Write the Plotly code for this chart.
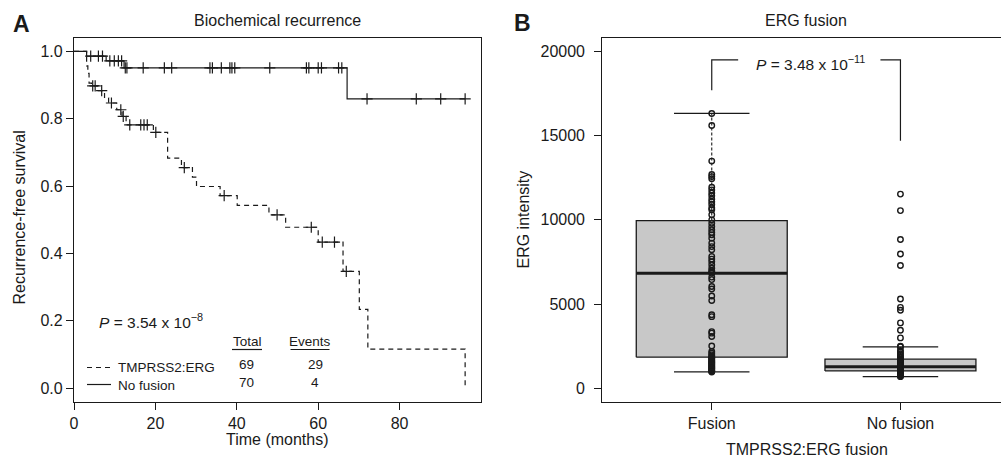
import plotly.graph_objects as go

# ---------------- Panel A: Kaplan-Meier data ----------------
km_groups = ["TMPRSS2:ERG", "No fusion"]
km_total = [69, 70]
km_events = [29, 4]

fus_t = [0, 3.1, 3.4, 3.7, 4.3, 6.0, 7.5, 8.5, 10.5, 11.8, 12.8, 19.5, 23.0, 26.4,
         29.1, 30.1, 35.9, 40.1, 47.9, 52.0, 60.0, 66.1, 70.1, 72.2, 96.1]
fus_s = [1.0, 0.957, 0.935, 0.906, 0.898, 0.884, 0.862, 0.847, 0.827, 0.807, 0.782,
         0.760, 0.683, 0.655, 0.627, 0.599, 0.572, 0.543, 0.515, 0.478, 0.434, 0.347,
         0.234, 0.116, 0.0]
fus_cens = [4.6, 5.2, 6.8, 9.2, 11.5, 12.1, 13.7, 16.4, 17.2, 18.0, 20.1, 27.1, 36.9,
            49.9, 58.3, 61.0, 64.0, 66.9]

nof_t = [0, 3.1, 7.9, 12.3, 67.1, 96.1]
nof_s = [1.0, 0.986, 0.972, 0.951, 0.859, 0.859]
nof_cens = [4.1, 6.0, 7.0, 8.8, 9.9, 10.9, 11.7, 12.6, 13.0, 17.0, 22.2, 24.0, 33.4,
            34.0, 36.2, 38.3, 38.8, 39.5, 48.1, 57.1, 57.7, 60.0, 60.8, 65.0, 65.8,
            72.0, 84.1, 90.1, 96.1]

x_ticks_a = [0, 20, 40, 60, 80]
y_ticks_a = [0.0, 0.2, 0.4, 0.6, 0.8, 1.0]

# ---------------- Panel B: box plot data ----------------
box_groups = ["Fusion", "No fusion"]
box_q1 = [1842, 1028]
box_med = [6833, 1283]
box_q3 = [9958, 1723]
box_lo = [968, 689]
box_hi = [16318, 2454]

fusion_vals = [16320, 15600, 13490, 12690, 12570, 12440, 11940, 11780, 11590, 11430,
               11230, 11070, 10910, 10710, 10600, 10300, 10000,
               9800, 9600, 9410, 9250, 9110, 8910, 8620, 8410, 8220, 7820, 7670, 7520,
               7330, 7130, 6980, 6900, 6833,
               6600, 6450, 6040, 5890, 5480, 5210, 4360, 4250, 3360, 3270, 3070, 2510,
               2180, 2080, 1980, 1900, 1842,
               1800, 1750, 1680, 1630, 1580, 1530, 1480, 1430, 1380, 1330, 1280, 1230,
               1190, 1140, 1090, 1040, 990, 968]
nofusion_vals = [11530, 10550, 8830, 7970, 7290, 5300, 4800, 4630, 3880, 3440, 2990, 2490,
                 2454, 2250, 2150, 2050, 1950, 1870, 1800, 1715,
                 1700, 1670, 1640, 1610, 1580, 1550, 1520, 1495, 1470, 1445, 1420, 1400,
                 1380, 1360, 1340, 1320, 1305, 1290, 1275, 1260, 1240, 1220, 1200, 1180,
                 1160, 1140, 1125, 1110, 1095, 1080, 1065, 1050, 1035, 1030,
                 1025, 1020, 1010, 1000, 980, 960, 940, 920, 900, 870, 840, 810, 780,
                 750, 720, 689]
y_ticks_b = [0, 5000, 10000, 15000, 20000]

# ---------------- helpers ----------------
W, H = 1001, 457
FONT = "Liberation Sans, Arial, Helvetica, sans-serif"
INK = "#1a1a1a"


def PX(x):
    return x / W


def PY(y):
    return 1 - y / H


def surv_at(t, times, surv):
    v = surv[0]
    for ti, si in zip(times, surv):
        if ti <= t:
            v = si
    return v


fig = go.Figure()

# KM curves
fig.add_trace(go.Scatter(x=fus_t, y=fus_s, mode="lines", line_shape="hv",
                         line=dict(color=INK, width=1.2, dash="5px,4px"),
                         xaxis="x", yaxis="y", showlegend=False))
fig.add_trace(go.Scatter(x=nof_t, y=nof_s, mode="lines", line_shape="hv",
                         line=dict(color=INK, width=1.2),
                         xaxis="x", yaxis="y", showlegend=False))
cross = dict(symbol="cross-thin", size=8, color=INK, line=dict(width=1.2, color=INK))
fig.add_trace(go.Scatter(x=fus_cens, y=[surv_at(t, fus_t, fus_s) for t in fus_cens],
                         mode="markers", marker=cross, xaxis="x", yaxis="y",
                         showlegend=False))
fig.add_trace(go.Scatter(x=nof_cens, y=[surv_at(t, nof_t, nof_s) for t in nof_cens],
                         mode="markers", marker=cross, xaxis="x", yaxis="y",
                         showlegend=False))

# Box plots (drawn R-style)
BW = 0.4
for i, g in enumerate(box_groups):
    p = i + 1
    fig.add_trace(go.Scatter(x=[p - BW, p + BW, p + BW, p - BW, p - BW],
                             y=[box_q1[i], box_q1[i], box_q3[i], box_q3[i], box_q1[i]],
                             mode="lines", fill="toself", fillcolor="#c8c8c8",
                             line=dict(color=INK, width=1.3), xaxis="x2", yaxis="y2",
                             showlegend=False, hoverinfo="skip"))
    for a, b in [(box_q3[i], box_hi[i]), (box_lo[i], box_q1[i])]:
        fig.add_trace(go.Scatter(x=[p, p], y=[a, b], mode="lines",
                                 line=dict(color=INK, width=1.1, dash="3px,2px"),
                                 xaxis="x2", yaxis="y2", showlegend=False))
    for v in [box_hi[i], box_lo[i]]:
        fig.add_trace(go.Scatter(x=[p - BW / 2, p + BW / 2], y=[v, v], mode="lines",
                                 line=dict(color=INK, width=1.3),
                                 xaxis="x2", yaxis="y2", showlegend=False))
    fig.add_trace(go.Scatter(x=[p - BW, p + BW], y=[box_med[i], box_med[i]], mode="lines",
                             line=dict(color=INK, width=3),
                             xaxis="x2", yaxis="y2", showlegend=False))

for i, vals in enumerate([fusion_vals, nofusion_vals]):
    fig.add_trace(go.Scatter(x=[i + 1] * len(vals), y=vals, mode="markers",
                             marker=dict(symbol="circle-open", size=5.5, color=INK,
                                         line=dict(width=1.4, color=INK)),
                             xaxis="x2", yaxis="y2", showlegend=False))

# ---------------- axes ----------------
axis_common = dict(showline=True, linecolor=INK, linewidth=1.2, ticks="outside",
                   ticklen=7, tickwidth=1.2, tickcolor=INK, showgrid=False,
                   zeroline=False, automargin=False,
                   tickfont=dict(family=FONT, size=16, color=INK))

xa0, xa1 = 74, 481
xb0 = 602.3
ytop, ybot = 38, 401.7
b_px_per_unit = 188.7
b_right = 0.42 + (W - xb0) / b_px_per_unit

fig.update_layout(
    width=W, height=H, margin=dict(l=0, r=0, t=0, b=0),
    paper_bgcolor="white", plot_bgcolor="white",
    xaxis=dict(axis_common, domain=[PX(xa0), PX(xa1)], range=[0, 100],
               tickvals=x_ticks_a, mirror=True, anchor="y"),
    yaxis=dict(axis_common, domain=[PY(ybot), PY(ytop)], range=[-0.04, 1.04],
               tickvals=y_ticks_a, tickformat=".1f", mirror=True, anchor="x",
               ticklabelstandoff=0),
    xaxis2=dict(axis_common, domain=[PX(xb0), 1.0], range=[0.42, b_right],
                tickvals=[1, 2], ticktext=box_groups, mirror=True, anchor="y2"),
    yaxis2=dict(axis_common, domain=[PY(ybot), PY(ytop)], range=[-800, 20800],
                tickvals=y_ticks_b, ticktext=[str(v) for v in y_ticks_b],
                anchor="x2", ticklabelstandoff=6),
)

ann = []


def text(x, y, s, size=16, xanchor="center", bold=False, angle=0, **kw):
    ann.append(dict(x=PX(x), y=PY(y), xref="paper", yref="paper", text=s,
                    showarrow=False, xanchor=xanchor, yanchor="middle",
                    textangle=angle,
                    font=dict(family=FONT, size=size, color=INK), **kw))


text(11, 24, "<b>A</b>", size=23, xanchor="left")
text(512, 23, "<b>B</b>", size=23, xanchor="left")
text(277, 21, "Biochemical recurrence", size=16)
text(806, 21, "ERG fusion", size=16)
text(18.5, 218, "Recurrence-free survival", size=16, angle=-90)
text(522.5, 220, "ERG intensity", size=16, angle=-90)
text(277.5, 439, "Time (months)", size=16)
text(807, 449, "TMPRSS2:ERG fusion", size=16)
text(97, 321, "<i>P</i> = 3.54 x 10<sup>\u22128</sup>", size=15.5, xanchor="left")
text(754, 63, "<i>P</i> = 3.48 x 10<sup>\u221211</sup>", size=15.5, xanchor="left")

# table / legend in panel A
text(247, 341, "Total", size=13.5)
text(310, 341, "Events", size=13.5)
row_y = [366, 384]
for i, g in enumerate(km_groups):
    text(116, row_y[i] + 1, g, size=13.5, xanchor="left")
    text(246, row_y[i] - 2, str(km_total[i]), size=13.5)
    text(315, row_y[i] - 2, str(km_events[i]), size=13.5)
fig.update_layout(annotations=ann)

shapes = []
# underlines
for x0, x1 in [(232, 262), (290.5, 329.5)]:
    shapes.append(dict(type="line", xref="paper", yref="paper", x0=PX(x0), x1=PX(x1),
                       y0=PY(349.5), y1=PY(349.5), line=dict(color=INK, width=1.2)))
# legend samples
shapes.append(dict(type="line", xref="paper", yref="paper", x0=PX(87), x1=PX(111),
                   y0=PY(367.5), y1=PY(367.5), line=dict(color=INK, width=1.2, dash="5px,4px")))
shapes.append(dict(type="line", xref="paper", yref="paper", x0=PX(87), x1=PX(111),
                   y0=PY(384.5), y1=PY(384.5), line=dict(color=INK, width=1.2)))
# significance bracket in panel B
yb = 19500
shapes.append(dict(type="path", xref="x2", yref="y2",
                   path=f"M 1,17700 L 1,{yb} L 1.14,{yb}",
                   line=dict(color=INK, width=1.2)))
shapes.append(dict(type="path", xref="x2", yref="y2",
                   path=f"M 1.894,{yb} L 2,{yb} L 2,14700",
                   line=dict(color=INK, width=1.2)))
fig.update_layout(shapes=shapes)

fig.write_html("out.html", config={"displayModeBar": False},
               post_script="document.body.style.margin='0';document.body.style.overflow='hidden';")
